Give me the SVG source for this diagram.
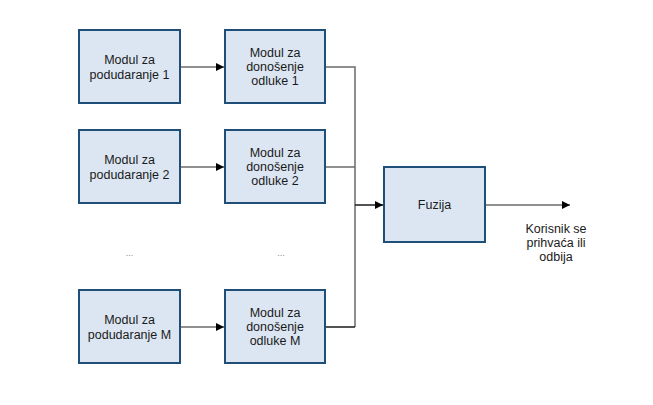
<svg xmlns="http://www.w3.org/2000/svg" width="653" height="405" viewBox="0 0 653 405">
<defs>
<style>
.box{fill:#dce6f2;stroke:#1f4e79;stroke-width:2}
.t{font-family:"Liberation Sans",Arial,sans-serif;font-size:12.5px;fill:#1a1a1a;text-anchor:middle}
.ln{fill:none;stroke:#6b6b6b;stroke-width:1.5}
.lk{fill:none;stroke:#1a1a1a;stroke-width:1.5}
</style>
<marker id="ah" markerWidth="8" markerHeight="8" refX="8" refY="4" orient="auto" markerUnits="userSpaceOnUse">
<path d="M0,0 L8,4 L0,8 Z" fill="#000"/>
</marker>
</defs>
<rect width="653" height="405" fill="#fff"/>
<g id="connectors">
<path class="ln" d="M180,67 H224" marker-end="url(#ah)"/>
<path class="ln" d="M180,167 H224" marker-end="url(#ah)"/>
<path class="ln" d="M180,327 H224" marker-end="url(#ah)"/>
<path class="ln" d="M325,67 H355 V327"/>
<path class="ln" d="M325,167 H355"/>
<path class="lk" d="M325,327 H355"/>
<path class="lk" d="M355,205 H383" marker-end="url(#ah)"/>
<path class="ln" d="M485,205 H570" marker-end="url(#ah)"/>
</g>
<g id="m1"><rect class="box" x="79" y="30" width="101" height="73"/><text class="t" x="129.5" y="64">Modul za</text><text class="t" x="129.5" y="79">podudaranje 1</text></g>
<g id="d1"><rect class="box" x="225" y="30" width="100" height="73"/><text class="t" x="275" y="57">Modul za</text><text class="t" x="275" y="71">donošenje</text><text class="t" x="275" y="85">odluke 1</text></g>
<g id="m2"><rect class="box" x="79" y="130" width="101" height="73"/><text class="t" x="129.5" y="164">Modul za</text><text class="t" x="129.5" y="179">podudaranje 2</text></g>
<g id="d2"><rect class="box" x="225" y="130" width="100" height="73"/><text class="t" x="275" y="157">Modul za</text><text class="t" x="275" y="171">donošenje</text><text class="t" x="275" y="185">odluke 2</text></g>
<g id="dots1"><text class="t" x="129.5" y="256" style="font-size:9px;fill:#888">...</text></g>
<g id="dots2"><text class="t" x="281" y="256" style="font-size:9px;fill:#888">...</text></g>
<g id="mM"><rect class="box" x="79" y="290" width="101" height="73"/><text class="t" x="129.5" y="324">Modul za</text><text class="t" x="129.5" y="339">podudaranje M</text></g>
<g id="dM"><rect class="box" x="225" y="290" width="100" height="73"/><text class="t" x="275" y="317">Modul za</text><text class="t" x="275" y="331">donošenje</text><text class="t" x="275" y="345">odluke M</text></g>
<g id="fuzija"><rect class="box" x="384" y="167" width="101" height="75"/><text class="t" x="434.5" y="209">Fuzija</text></g>
<g id="out"><text class="t" x="556" y="233">Korisnik se</text><text class="t" x="556" y="247">prihvaća ili</text><text class="t" x="556" y="261">odbija</text></g>
</svg>
